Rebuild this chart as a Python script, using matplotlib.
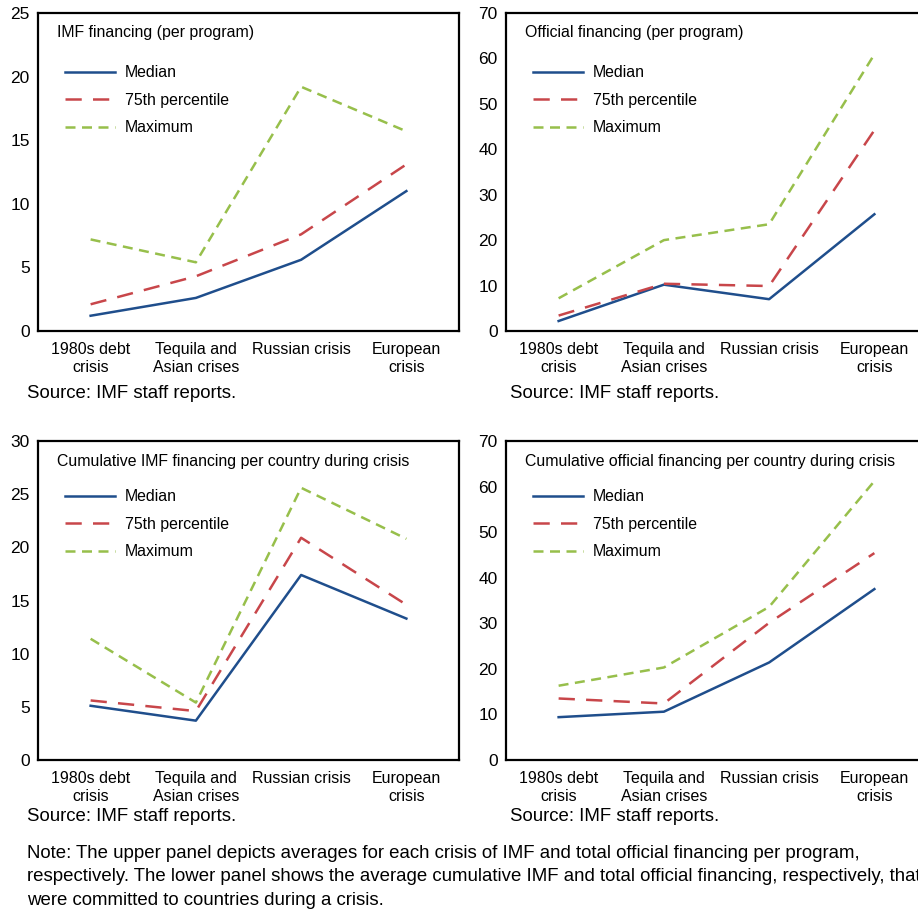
import matplotlib
matplotlib.use("Agg")
import matplotlib.pyplot as plt

plt.rcParams['font.family'] = ['Liberation Sans', 'DejaVu Sans']

# ---- data ----
crises = ["1980s debt\ncrisis", "Tequila and\nAsian crises", "Russian crisis", "European\ncrisis"]
series_names = ["Median", "75th percentile", "Maximum"]

imf_median = [1.2, 2.6, 5.6, 11.0]
imf_p75 = [2.1, 4.3, 7.6, 13.1]
imf_max = [7.2, 5.4, 19.2, 15.7]

off_median = [2.2, 10.2, 7.0, 25.7]
off_p75 = [3.4, 10.4, 9.9, 44.2]
off_max = [7.2, 20.0, 23.5, 60.9]

cum_imf_median = [5.1, 3.7, 17.4, 13.3]
cum_imf_p75 = [5.6, 4.6, 20.9, 14.6]
cum_imf_max = [11.4, 5.4, 25.6, 20.8]

cum_off_median = [9.4, 10.6, 21.4, 37.5]
cum_off_p75 = [13.5, 12.4, 30.1, 45.4]
cum_off_max = [16.3, 20.3, 33.6, 61.2]

W, H = 918, 913
fig = plt.figure(figsize=(W / 100, H / 100), dpi=100)

BLUE = "#1f4e8c"
RED = "#c8464a"
GREEN = "#97bf4b"


def px_axes(left, top, width, height):
    return fig.add_axes([left / W, (H - top - height) / H, width / W, height / H])


def panel(ax, title, med, p75, mx, ymax, step, leg_y=0.855):
    x = range(len(crises))
    ax.plot(x, med, color=BLUE, lw=1.8, label=series_names[0])
    ax.plot(x, p75, color=RED, lw=1.8, dashes=(6.5, 4.5), label=series_names[1])
    ax.plot(x, mx, color=GREEN, lw=1.8, dashes=(4, 2.6), label=series_names[2])
    ax.set_xlim(-0.5, 3.5)
    ax.set_ylim(0, ymax)
    ax.set_yticks(range(0, ymax + 1, step))
    ax.set_xticks(list(x))
    ax.set_xticklabels(crises, fontsize=11.5)
    ax.tick_params(length=0, pad=6)
    ax.tick_params(axis='y', labelsize=12.5)
    ax.tick_params(axis='x', pad=8)
    for s in ax.spines.values():
        s.set_linewidth(1.6)
    ax.text(19 / 421, 1 - 20 / 318, title, transform=ax.transAxes,
            fontsize=11.4, va='center', ha='left')
    ax.legend(loc='upper left', bbox_to_anchor=(0.05, leg_y), frameon=False,
              fontsize=11.4, handlelength=3.15, handletextpad=0.63,
              labelspacing=0.78, borderaxespad=0)


ax1 = px_axes(38, 13, 421, 318)
panel(ax1, "IMF financing (per program)", imf_median, imf_p75, imf_max, 25, 5)
ax2 = px_axes(506, 13, 421, 318)
panel(ax2, "Official financing (per program)", off_median, off_p75, off_max, 70, 10)
ax3 = px_axes(38, 441, 421, 319)
panel(ax3, "Cumulative IMF financing per country during crisis",
      cum_imf_median, cum_imf_p75, cum_imf_max, 30, 5, leg_y=0.868)
ax4 = px_axes(506, 441, 421, 319)
panel(ax4, "Cumulative official financing per country during crisis",
      cum_off_median, cum_off_p75, cum_off_max, 70, 10, leg_y=0.868)

src = "Source: IMF staff reports."
for xp, yp in [(27, 394), (510, 394), (27, 816), (510, 816)]:
    fig.text(xp / W, 1 - yp / H, src, fontsize=13.4, va='center', ha='left')

note = ["Note: The upper panel depicts averages for each crisis of IMF and total official financing per program,",
        "respectively. The lower panel shows the average cumulative IMF and total official financing, respectively, that",
        "were committed to countries during a crisis."]
for i, line in enumerate(note):
    fig.text(27 / W, 1 - (853 + 23.5 * i) / H, line, fontsize=13.4, va='center', ha='left')

fig.savefig("out.png", dpi=100)
